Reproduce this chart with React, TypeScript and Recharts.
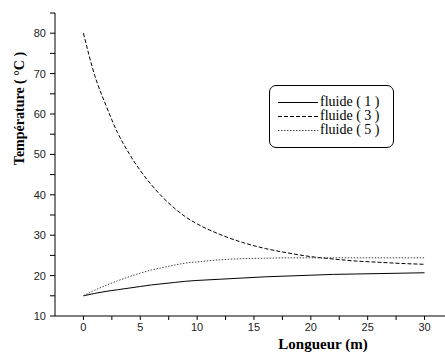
import {
  LineChart,
  Line,
  XAxis,
  YAxis,
  Legend,
  Label,
} from "recharts";

const longueur = [0, 1, 2, 3, 4, 5, 6, 7, 8, 9, 10, 12, 14, 16, 18, 20, 22, 24, 26, 28, 30];
const fluide1 = [15, 15.6, 16.1, 16.5, 16.9, 17.3, 17.7, 18.0, 18.3, 18.6, 18.8, 19.1, 19.4, 19.7, 19.9, 20.1, 20.3, 20.4, 20.5, 20.6, 20.7];
const fluide3 = [80, 69.5, 62, 55.4, 50.3, 46, 42.4, 39.3, 36.7, 34.5, 32.8, 30.2, 28.2, 26.7, 25.6, 24.7, 24.1, 23.6, 23.3, 23.0, 22.8];
const fluide5 = [15, 16.4, 17.6, 18.7, 19.7, 20.6, 21.4, 22.0, 22.6, 23.1, 23.4, 23.9, 24.2, 24.3, 24.4, 24.4, 24.4, 24.4, 24.4, 24.4, 24.4];

const xTicks = [0, 2.5, 5, 7.5, 10, 12.5, 15, 17.5, 20, 22.5, 25, 27.5, 30];
const yTicks = [10, 15, 20, 25, 30, 35, 40, 45, 50, 55, 60, 65, 70, 75, 80, 85];

const series = [
  { key: "f1", name: "fluide ( 1 )", dash: undefined, color: "#000" },
  { key: "f3", name: "fluide ( 3 )", dash: "4 2", color: "#000" },
  { key: "f5", name: "fluide ( 5 )", dash: "1.5 1.5", color: "#444" },
];

const data = longueur.map((x, i) => ({
  x,
  f1: fluide1[i],
  f3: fluide3[i],
  f5: fluide5[i],
}));

const tickStyle = { fontFamily: "Liberation Sans, Arial", fontSize: 11, fill: "#222" };

const LegendBox = () => (
  <div
    style={{
      boxSizing: "border-box",
      width: 125,
      height: 63,
      border: "1px solid #000",
      borderRadius: 7,
      paddingTop: 9,
      background: "#fff",
    }}
  >
    {series.map((s) => (
      <div key={s.key} style={{ display: "flex", alignItems: "center", height: 14 }}>
        <svg width={48} height={14} style={{ flex: "none" }}>
          <line x1={8} x2={48} y1={7.5} y2={7.5} stroke={s.color} strokeWidth={1} strokeDasharray={s.dash} />
        </svg>
        <span style={{ fontFamily: "Liberation Serif, Times New Roman", fontSize: 14, color: "#000", marginLeft: 2, lineHeight: "14px" }}>
          {s.name}
        </span>
      </div>
    ))}
  </div>
);

export default function App() {
  return (
    <div>
      <style>{`body{margin:0}`}</style>
      <LineChart width={445} height={354} data={data} margin={{ top: 13, right: 0, bottom: 0, left: 0 }}>
        <XAxis
          dataKey="x"
          type="number"
          domain={[-2.5, 31.8]}
          allowDataOverflow
          ticks={xTicks}
          interval={0}
          height={38}
          tickSize={4}
          tickMargin={3}
          stroke="#000"
          tick={tickStyle}
          tickFormatter={(v: number) => (v % 5 === 0 ? String(v) : "")}
        >
          <Label
            value="Longueur (m)"
            position="insideBottom"
            offset={5}
            dx={73}
            style={{ fontFamily: "Liberation Serif, Times New Roman", fontWeight: "bold", fontSize: 15, fill: "#000" }}
          />
        </XAxis>
        <YAxis
          type="number"
          domain={[10, 85]}
          ticks={yTicks}
          interval={0}
          width={55}
          tickSize={5}
          tickMargin={4}
          stroke="#000"
          tick={tickStyle}
          tickFormatter={(v: number) => (v % 10 === 0 ? String(v) : "")}
        >
          <Label
            value="Température ( °C )"
            angle={-90}
            position="insideLeft"
            offset={0}
            dx={19}
            dy={-56}
            style={{ textAnchor: "middle", fontFamily: "Liberation Serif, Times New Roman", fontWeight: "bold", fontSize: 14, fill: "#000" }}
          />
        </YAxis>
        <Legend
          layout="horizontal"
          verticalAlign="middle"
          align="center"
          wrapperStyle={{ left: 269, top: 85, width: 125 }}
          content={() => <LegendBox />}
        />
        {series.map((s) => (
          <Line
            key={s.key}
            dataKey={s.key}
            name={s.name}
            type="monotone"
            stroke={s.color}
            strokeWidth={1}
            strokeDasharray={s.dash}
            dot={false}
            isAnimationActive={false}
          />
        ))}
      </LineChart>
    </div>
  );
}
